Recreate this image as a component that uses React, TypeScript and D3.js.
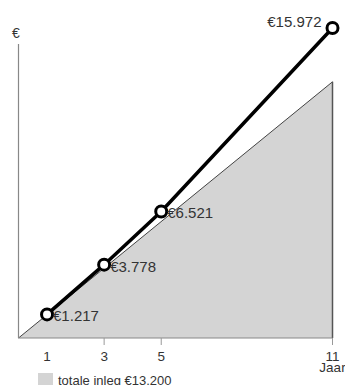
import React from "react";
import * as d3 from "d3";

const years = [1, 3, 5, 11];
const values = [1217, 3778, 6521, 15972];
const valueLabels = ["€1.217", "€3.778", "€6.521", "€15.972"];
const inlegYears = [0, 11];
const inlegValues = [0, 13200];
const xTicks = [1, 3, 5, 11];
const legendLabel = "totale inleg €13.200";
const yAxisLabel = "€";
const xAxisLabel = "Jaar";

export default function App() {
  const W = 345, H = 385;
  const x = d3.scaleLinear().domain([0, 11]).range([18.5, 332.5]);
  const y = d3.scaleLinear().domain([0, 15972]).range([338, 28]);
  const area = d3
    .area<number>()
    .x((_, i) => x(inlegYears[i]))
    .y0(y(0))
    .y1((d) => y(d));
  const line = d3
    .line<number>()
    .x((_, i) => x(years[i]))
    .y((d) => y(d));
  const font = "Liberation Sans, Arial, sans-serif";
  const textColor = "#333";
  return (
    <svg
      width={W}
      height={H}
      style={{ position: "absolute", left: 0, top: 0 }}
      fontFamily={font}
    >
      <path d={area(inlegValues) || ""} fill="#d4d4d4" stroke="none" />
      <line x1={x(0)} y1={y(0)} x2={x(11)} y2={y(13200)} stroke="#444" strokeWidth={1} />
      <line x1={x(11)} y1={y(0)} x2={x(11)} y2={y(13200)} stroke="#555" strokeWidth={1.5} />
      <line x1={x(0)} y1={y(0)} x2={x(11)} y2={y(0)} stroke="#888" strokeWidth={1.2} />
      <line x1={x(0)} y1={y(0)} x2={x(0)} y2={44} stroke="#888" strokeWidth={1.2} />
      {xTicks
        .filter((t) => t !== 1)
        .map((t) => (
          <line key={t} x1={x(t)} x2={x(t)} y1={y(0)} y2={y(0) + 7} stroke="#999" strokeWidth={1} />
        ))}
      {xTicks.map((t) => (
        <text key={t} x={x(t)} y={360.5} textAnchor="middle" fontSize={13.5} fill={textColor}>
          {t}
        </text>
      ))}
      <text x={x(11)} y={372} textAnchor="middle" fontSize={13.5} fill={textColor}>
        {xAxisLabel}
      </text>
      <text x={16} y={38} textAnchor="middle" fontSize={14} fill={textColor}>
        {yAxisLabel}
      </text>
      <path d={line(values) || ""} fill="none" stroke="#000" strokeWidth={3.5} />
      {values.map((v, i) => (
        <circle key={i} cx={x(years[i])} cy={y(v)} r={5.5} fill="#fff" stroke="#000" strokeWidth={3} />
      ))}
      {values.map((v, i) =>
        i === values.length - 1 ? (
          <text key={i} x={x(years[i]) - 11} y={y(v) - 1} textAnchor="end" fontSize={15} fill={textColor}>
            {valueLabels[i]}
          </text>
        ) : (
          <text key={i} x={x(years[i]) + 6} y={y(v) + 7} textAnchor="start" fontSize={15} fill={textColor}>
            {valueLabels[i]}
          </text>
        )
      )}
      <rect x={38} y={373} width={15} height={14} fill="#d4d4d4" />
      <text x={58} y={385} fontSize={13} fill={textColor}>
        {legendLabel}
      </text>
    </svg>
  );
}
